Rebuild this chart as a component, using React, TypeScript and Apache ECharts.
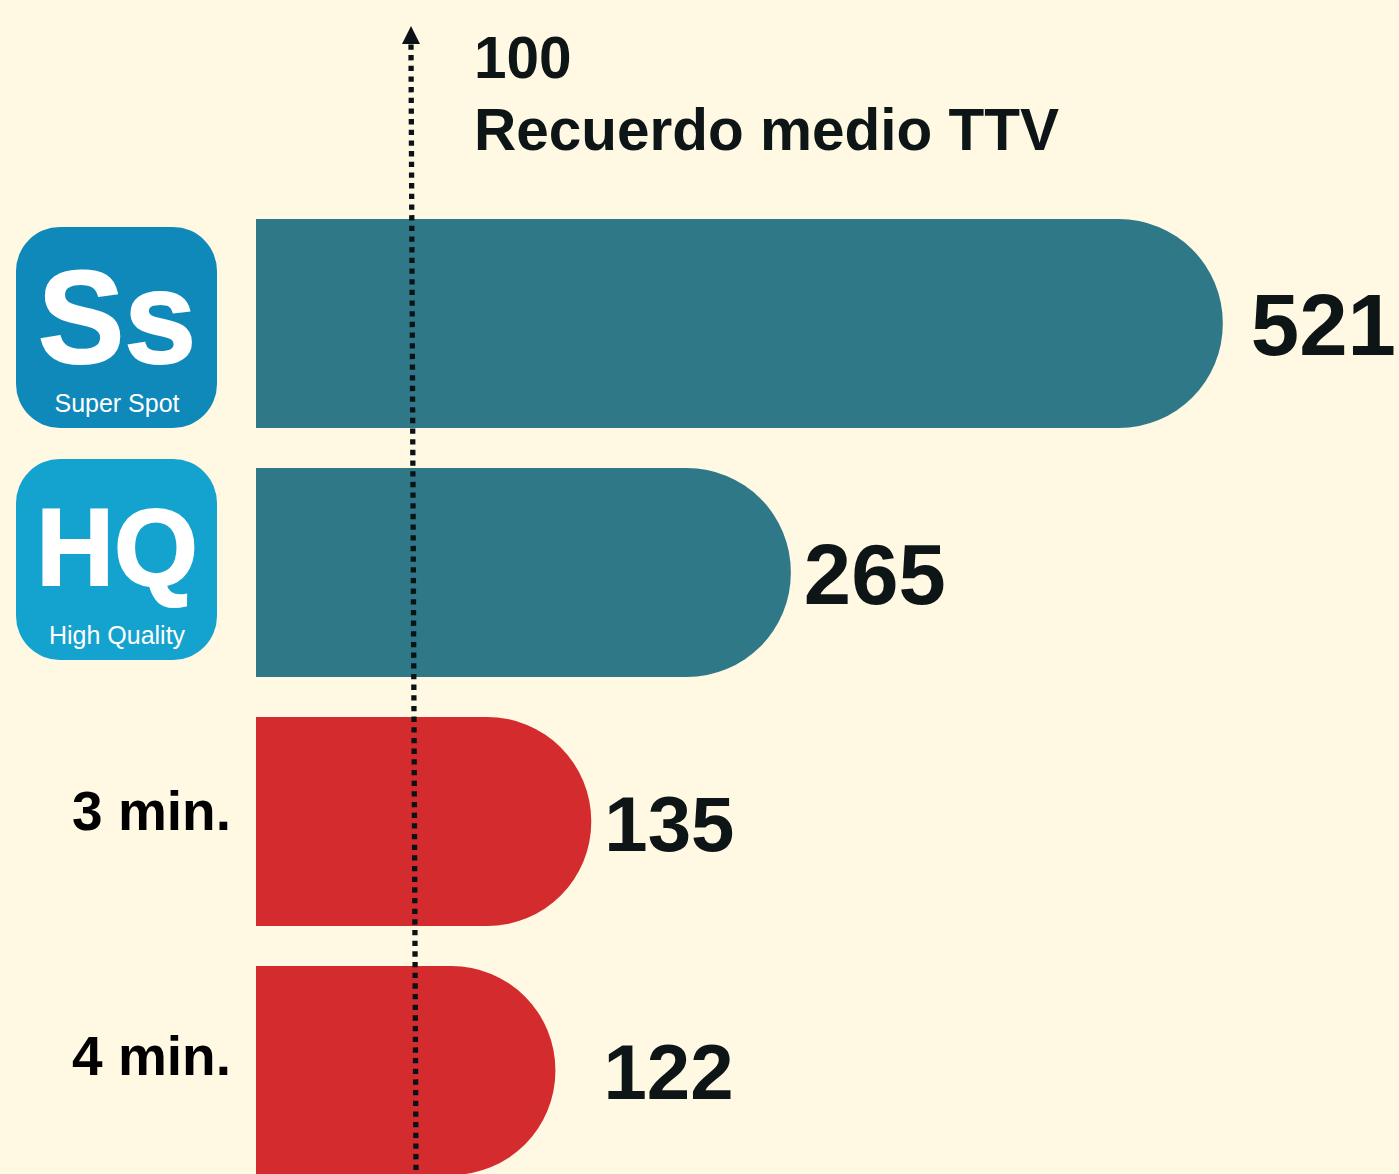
import React, { useEffect, useRef } from "react";
import * as echarts from "echarts";

const categories = ["Super Spot", "High Quality", "3 min.", "4 min."];
// Printed index values.
const printedValues = [521, 265, 135, 122];
// Drawn lengths: the reference's bars are not proportional to the printed values.
const drawnLengths = [620, 343, 215, 192];
const barColors = ["#2e7888", "#2e7888", "#d42c2e", "#d42c2e"];
const labelSizes = [87, 85, 78, 78];
const labelDistances = [28, 13, 13, 48];
const labelOffsets = [1, 2, 2, 1];
const titleLines = ["100", "Recuerdo medio TTV"];

const INK = "#0d1517";
const FONT = '"Liberation Sans", Arial, sans-serif';

function icon(y: number, fill: string, mark: string, markSize: number, markY: number, scaleX: number, caption: string) {
  return [
    { type: "rect", z: 5, shape: { x: 16, y, width: 201, height: 201, r: 44 }, style: { fill } },
    {
      type: "text", z: 6, x: 117, y: markY, scaleX,
      style: { x: 0, y: 0, text: mark, fill: "#ffffff", stroke: "#ffffff", lineWidth: 2, fontFamily: FONT, fontWeight: "bold", fontSize: markSize, textAlign: "center", textVerticalAlign: "middle" },
    },
    {
      type: "text", z: 6, x: 117, y: y + 176,
      style: { x: 0, y: 0, text: caption, fill: "#ffffff", fontFamily: FONT, fontSize: 25, textAlign: "center", textVerticalAlign: "middle" },
    },
  ];
}

function sideLabel(text: string, y: number) {
  return {
    type: "text", z: 10, x: 231, y,
    style: { text, fill: "#000000", fontFamily: FONT, fontWeight: "bold", fontSize: 55, textAlign: "right", textVerticalAlign: "middle" },
  };
}

export default function App() {
  const ref = useRef<HTMLDivElement>(null);
  useEffect(() => {
    document.body.style.margin = "0";
    const chart = echarts.init(ref.current!, null, { renderer: "svg" });
    chart.setOption({
      animation: false,
      backgroundColor: "#fff8e3",
      grid: { left: 256, top: 199, width: 1143, height: 996 },
      xAxis: { type: "value", min: 0, max: 733, show: false },
      yAxis: {
        type: "category",
        inverse: true,
        data: categories,
        axisLine: { show: false },
        axisTick: { show: false },
        axisLabel: { show: false },
      },
      series: [
        {
          type: "bar",
          barWidth: 209,
          data: drawnLengths.map((v, i) => ({
            value: v,
            itemStyle: { color: barColors[i], borderRadius: [0, 104, 104, 0] },
            label: {
              show: true,
              position: "right",
              distance: labelDistances[i],
              offset: [0, labelOffsets[i]],
              formatter: String(printedValues[i]),
              color: INK,
              fontFamily: FONT,
              fontWeight: "bold",
              fontSize: labelSizes[i],
            },
          })),
        },
      ],
      graphic: [
        ...icon(227, "#0f88ba", "Ss", 132, 318, 0.98, categories[0]),
        ...icon(459, "#14a2cf", "HQ", 110, 547, 0.98, categories[1]),
        sideLabel(categories[2], 811),
        sideLabel(categories[3], 1056),
        {
          type: "line", z: 10,
          shape: { x1: 411, y1: 44.4, x2: 416, y2: 1171 },
          style: { stroke: "#0b1215", lineWidth: 5.3, lineDash: [5.3, 5.37] },
        },
        {
          type: "polygon", z: 10,
          shape: { points: [[411, 26], [420, 44], [402, 44]] },
          style: { fill: "#0b1215" },
        },
        {
          type: "text", z: 10, x: 474, y: 57,
          style: { text: titleLines[0], fill: INK, fontFamily: FONT, fontWeight: "bold", fontSize: 58.5, textVerticalAlign: "middle" },
        },
        {
          type: "text", z: 10, x: 474, y: 129,
          style: { text: titleLines[1], fill: INK, fontFamily: FONT, fontWeight: "bold", fontSize: 58.5, textVerticalAlign: "middle" },
        },
      ],
    });
    return () => chart.dispose();
  }, []);
  return (
    <div style={{ width: 1399, height: 1174, overflow: "hidden" }}>
      <div ref={ref} style={{ width: 1399, height: 1200 }} />
    </div>
  );
}
